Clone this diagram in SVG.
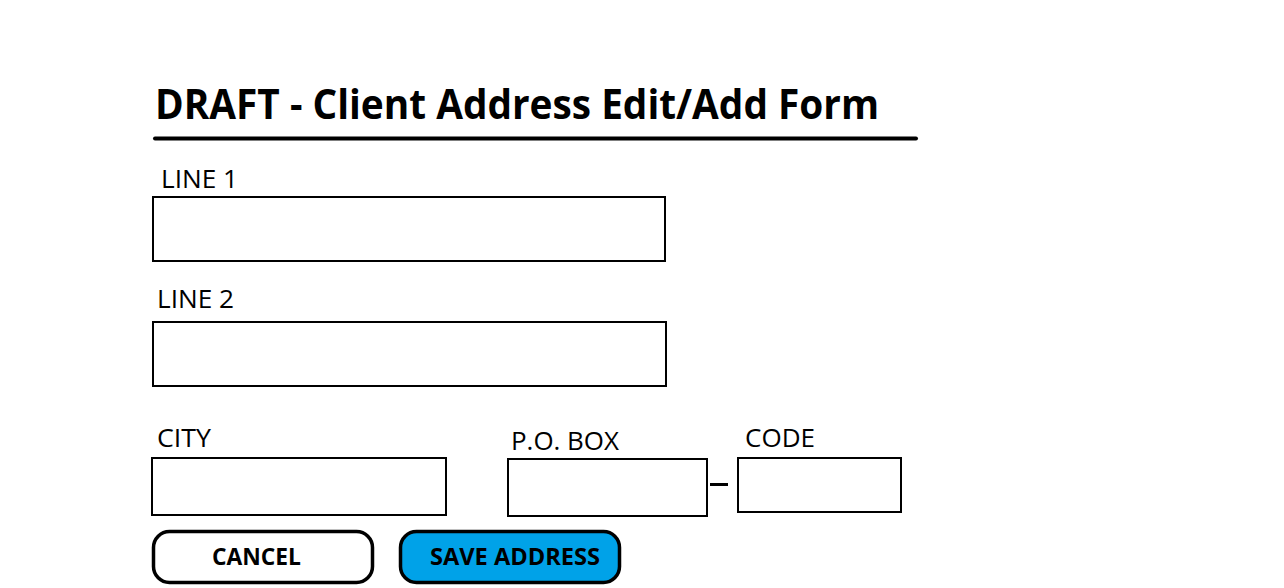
<svg xmlns="http://www.w3.org/2000/svg" width="1284" height="588" viewBox="0 0 1284 588">
<style>
text{font-family:"Open Sans","Noto Sans","DejaVu Sans",sans-serif;fill:#000}
.lbl{font-size:26px}
.box{fill:#fff;stroke:#000;stroke-width:2}
.btn{stroke:#000;stroke-width:3.5}
.bt{font-size:23px;font-weight:bold}
</style>
<rect width="1284" height="588" fill="#fff"/>
<g id="title">
<text x="155" y="119" font-size="41" font-weight="bold" textLength="724" lengthAdjust="spacingAndGlyphs">DRAFT - Client Address Edit/Add Form</text>
<line x1="155" y1="138.5" x2="916" y2="138.5" stroke="#000" stroke-width="4" stroke-linecap="round"/>
</g>
<g id="line1">
<text class="lbl" x="161" y="188" textLength="77" lengthAdjust="spacingAndGlyphs">LINE 1</text>
<rect class="box" x="153" y="197" width="512" height="64"/>
</g>
<g id="line2">
<text class="lbl" x="157" y="308" textLength="77" lengthAdjust="spacingAndGlyphs">LINE 2</text>
<rect class="box" x="153" y="322" width="513" height="64"/>
</g>
<g id="city">
<text class="lbl" x="157" y="447" textLength="54" lengthAdjust="spacingAndGlyphs">CITY</text>
<rect class="box" x="152" y="458" width="294" height="57"/>
</g>
<g id="pobox">
<text class="lbl" x="511" y="450" textLength="108" lengthAdjust="spacingAndGlyphs">P.O. BOX</text>
<rect class="box" x="508" y="459" width="199" height="57"/>
</g>
<g id="connectors">
<line x1="710" y1="484.5" x2="728" y2="484.5" stroke="#000" stroke-width="3"/>
</g>
<g id="code">
<text class="lbl" x="745" y="447" textLength="70" lengthAdjust="spacingAndGlyphs">CODE</text>
<rect class="box" x="738" y="458" width="163" height="54"/>
</g>
<g id="cancel">
<rect class="btn" x="153.5" y="531.5" width="219" height="51" rx="16" fill="#fff"/>
<text class="bt" x="212" y="565" textLength="89" lengthAdjust="spacingAndGlyphs">CANCEL</text>
</g>
<g id="save">
<rect class="btn" x="400.5" y="531.5" width="219" height="51" rx="16" fill="#00A2E8"/>
<text class="bt" x="430" y="565" textLength="170" lengthAdjust="spacingAndGlyphs">SAVE ADDRESS</text>
</g>
</svg>
